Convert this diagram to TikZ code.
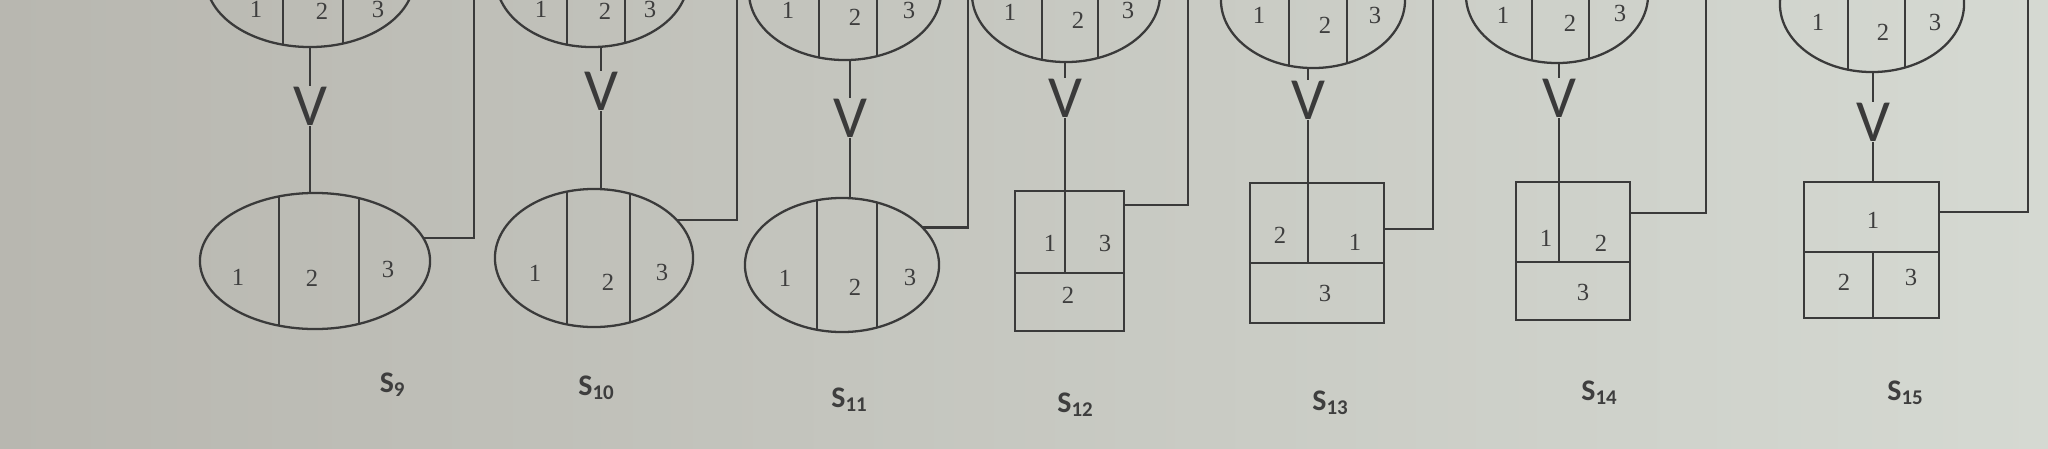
\documentclass[tikz,border=0pt]{standalone}
\usepackage{fontspec}
\setmainfont{Liberation Serif}
\newfontfamily\carl{Carlito}
\usetikzlibrary{shapes.geometric,calc}
\definecolor{bgL}{RGB}{184,183,176}
\definecolor{bgM}{RGB}{202,205,198}
\definecolor{bgR}{RGB}{213,217,210}
\definecolor{inkc}{RGB}{58,58,58}
\definecolor{txtc}{RGB}{62,62,62}
\tikzset{
  ell/.style={ellipse, draw=inkc, line width=0.65pt, inner sep=0pt, outer sep=0pt},
  box/.style={rectangle, draw=inkc, line width=0.65pt, inner sep=0pt, outer sep=0pt},
  conn/.style={draw=inkc, line width=0.6pt},
  num/.style={font=\fontsize{7}{8}\selectfont, text=txtc, inner sep=0pt},
  vmark/.style={font=\carl\fontsize{17}{18}\selectfont, text=inkc, inner sep=0pt},
  lab/.style={font=\carl\bfseries\fontsize{8.5}{10}\selectfont, text=txtc, inner sep=0pt},
}
% chord of an ellipse node: node, rx, ry, dx (all in px units)
\newcommand\ellchord[4]{%
  \draw[conn, line width=0.65pt] ($(#1.center)+(#4,{#3*sqrt(1-(#4/#2)^2)})$) -- ($(#1.center)+(#4,{-#3*sqrt(1-(#4/#2)^2)})$);}
\begin{document}
\begin{tikzpicture}[x=0.01cm,y=-0.01cm]
\useasboundingbox (0,0) rectangle (2048,448);
\clip (0,0) rectangle (2048,448);
\shade[left color=bgL, middle color=bgM, right color=bgR] (0,0) rectangle (2048,448);

% ---------------- S9
\node[ell, minimum width=2.08cm, minimum height=1.36cm] (T9) at (310,-21) {};
\ellchord{T9}{104}{68}{-27}
\ellchord{T9}{104}{68}{33}
\node[num] (t9a) at (256,9) {1};
\node[num] (t9b) at (322,11) {2};
\node[num] (t9c) at (378,9) {3};
\node[vmark] (V9) at (310,106) {V};
\node[ell, minimum width=2.30cm, minimum height=1.36cm] (B9) at (315,261) {};
\ellchord{B9}{115}{68}{-36}
\ellchord{B9}{115}{68}{44}
\node[num] (b9a) at (238,277) {1};
\node[num] (b9b) at (312,278) {2};
\node[num] (b9c) at (388,269) {3};
\draw[conn] (V9.north |- T9.south) -- (V9.north);
\draw[conn] (V9.south) -- (V9.south |- B9.north);
\coordinate (f9) at (474,-30);
\draw[conn] (B9.12) -| (f9);
\node[lab] (L9) at (393,385) {S\textsubscript{9}};

% ---------------- S10
\node[ell, minimum width=1.92cm, minimum height=1.36cm] (T10) at (592,-21) {};
\ellchord{T10}{96}{68}{-25}
\ellchord{T10}{96}{68}{33}
\node[num] (t10a) at (541,9) {1};
\node[num] (t10b) at (605,11) {2};
\node[num] (t10c) at (650,9) {3};
\node[vmark] (V10) at (601,91) {V};
\node[ell, minimum width=1.98cm, minimum height=1.38cm] (B10) at (594,258) {};
\ellchord{B10}{99}{69}{-27}
\ellchord{B10}{99}{69}{36}
\node[num] (b10a) at (535,273) {1};
\node[num] (b10b) at (608,282) {2};
\node[num] (b10c) at (662,272) {3};
\draw[conn] (V10.north |- T10.south) -- (V10.north);
\draw[conn] (V10.south) -- (V10.south |- B10.north);
\coordinate (f10) at (737,-30);
\draw[conn] (B10.25) -| (f10);
\node[lab] (L10) at (597,388) {S\textsubscript{10}};

% ---------------- S11
\node[ell, minimum width=1.92cm, minimum height=1.36cm] (T11) at (845,-8) {};
\ellchord{T11}{96}{68}{-26}
\ellchord{T11}{96}{68}{32}
\node[num] (t11a) at (788,10) {1};
\node[num] (t11b) at (855,17) {2};
\node[num] (t11c) at (909,10) {3};
\node[vmark] (V11) at (850,118) {V};
\node[ell, minimum width=1.94cm, minimum height=1.34cm] (B11) at (842,265) {};
\ellchord{B11}{97}{67}{-25}
\ellchord{B11}{97}{67}{35}
\node[num] (b11a) at (785,278) {1};
\node[num] (b11b) at (855,287) {2};
\node[num] (b11c) at (910,277) {3};
\draw[conn] (V11.north |- T11.south) -- (V11.north);
\draw[conn] (V11.south) -- (V11.south |- B11.north);
\coordinate (f11) at (968,-30);
\draw[conn] (B11.25) -| (f11);
\node[lab] (L11) at (850,400) {S\textsubscript{11}};

% ---------------- S12
\node[ell, minimum width=1.88cm, minimum height=1.36cm] (T12) at (1066,-6) {};
\ellchord{T12}{94}{68}{-24}
\ellchord{T12}{94}{68}{32}
\node[num] (t12a) at (1010,12) {1};
\node[num] (t12b) at (1078,20) {2};
\node[num] (t12c) at (1128,10) {3};
\node[vmark] (V12) at (1065,98) {V};
\node[box, minimum width=1.09cm, minimum height=1.40cm] (B12) at (1069.5,261) {};
\coordinate (h12) at ($(B12.north west)+(0,82)$);
\draw[conn] (h12) -- (h12 -| B12.east);
\draw[conn] (V12.south) -- (V12.south |- B12.north) -- (V12.south |- h12);
\node[num] (b12a) at (1050,243) {1};
\node[num] (b12c) at (1105,243) {3};
\node[num] (b12b) at (1068,295) {2};
\draw[conn] (V12.north |- T12.south) -- (V12.north);
\coordinate (e12) at ($(B12.north east)+(0,14)$);
\coordinate (f12) at (1188,-30);
\draw[conn] (e12) -| (f12);
\node[lab] (L12) at (1076,405) {S\textsubscript{12}};

% ---------------- S13
\node[ell, minimum width=1.84cm, minimum height=1.36cm] (T13) at (1313,0) {};
\ellchord{T13}{92}{68}{-24}
\ellchord{T13}{92}{68}{34}
\node[num] (t13a) at (1259,15) {1};
\node[num] (t13b) at (1325,25) {2};
\node[num] (t13c) at (1375,15) {3};
\node[vmark] (V13) at (1308,100) {V};
\node[box, minimum width=1.34cm, minimum height=1.40cm] (B13) at (1317,253) {};
\coordinate (h13) at ($(B13.north west)+(0,80)$);
\draw[conn] (h13) -- (h13 -| B13.east);
\draw[conn] (V13.south) -- (V13.south |- h13);
\node[num] (b13b) at (1280,235) {2};
\node[num] (b13a) at (1355,242) {1};
\node[num] (b13c) at (1325,293) {3};
\draw[conn] (V13.north |- T13.south) -- (V13.north);
\coordinate (e13) at ($(B13.north east)+(0,46)$);
\coordinate (f13) at (1433,-30);
\draw[conn] (e13) -| (f13);
\node[lab] (L13) at (1331,403) {S\textsubscript{13}};

% ---------------- S14
\node[ell, minimum width=1.82cm, minimum height=1.36cm] (T14) at (1557,-5) {};
\ellchord{T14}{91}{68}{-25}
\ellchord{T14}{91}{68}{32}
\node[num] (t14a) at (1503,15) {1};
\node[num] (t14b) at (1570,23) {2};
\node[num] (t14c) at (1620,13) {3};
\node[vmark] (V14) at (1559,98) {V};
\node[box, minimum width=1.14cm, minimum height=1.38cm] (B14) at (1573,251) {};
\coordinate (h14) at ($(B14.north west)+(0,80)$);
\draw[conn] (h14) -- (h14 -| B14.east);
\draw[conn] (V14.south) -- (V14.south |- h14);
\node[num] (b14a) at (1546,238) {1};
\node[num] (b14b) at (1601,243) {2};
\node[num] (b14c) at (1583,292) {3};
\draw[conn] (V14.north |- T14.south) -- (V14.north);
\coordinate (e14) at ($(B14.north east)+(0,31)$);
\coordinate (f14) at (1706,-30);
\draw[conn] (e14) -| (f14);
\node[lab] (L14) at (1600,393) {S\textsubscript{14}};

% ---------------- S15
\node[ell, minimum width=1.84cm, minimum height=1.36cm] (T15) at (1872,4) {};
\ellchord{T15}{92}{68}{-24}
\ellchord{T15}{92}{68}{33}
\node[num] (t15a) at (1818,22) {1};
\node[num] (t15b) at (1883,32) {2};
\node[num] (t15c) at (1935,22) {3};
\node[vmark] (V15) at (1873,122) {V};
\node[box, minimum width=1.35cm, minimum height=1.36cm] (B15) at (1871.5,250) {};
\coordinate (h15) at ($(B15.north west)+(0,70)$);
\draw[conn] (h15) -- (h15 -| B15.east);
\draw[conn] (h15 -| V15.south) -- (V15.south |- B15.south);
\node[num] (b15a) at (1873,220) {1};
\node[num] (b15b) at (1844,282) {2};
\node[num] (b15c) at (1911,277) {3};
\draw[conn] (V15.north |- T15.south) -- (V15.north);
\draw[conn] (V15.south) -- (V15.south |- B15.north);
\coordinate (e15) at ($(B15.north east)+(0,30)$);
\coordinate (f15) at (2028,-30);
\draw[conn] (e15) -| (f15);
\node[lab] (L15) at (1906,393) {S\textsubscript{15}};
\end{tikzpicture}
\end{document}
